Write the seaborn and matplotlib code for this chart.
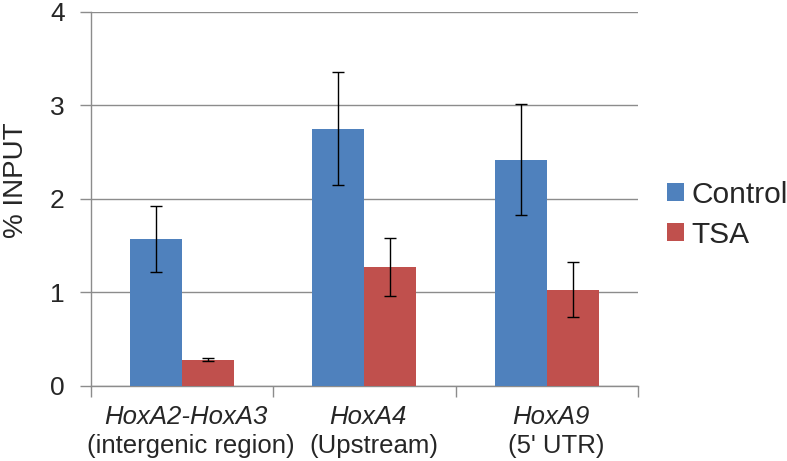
import numpy as np
import pandas as pd
import matplotlib
matplotlib.use("Agg")
import matplotlib.pyplot as plt
import seaborn as sns

# data
regions = ["HoxA2-HoxA3", "HoxA4", "HoxA9"]
region_notes = ["(intergenic region)", "(Upstream)", "(5' UTR)"]
conditions = ["Control", "TSA"]
control_vals = [1.57, 2.75, 2.42]
control_err = [0.355, 0.60, 0.59]
tsa_vals = [0.28, 1.27, 1.03]
tsa_err = [0.015, 0.31, 0.29]
y_ticks = [0, 1, 2, 3, 4]

colors = {"Control": "#4F81BD", "TSA": "#C0504D"}
grid_gray = "#8C8C8C"

df = pd.DataFrame({
    "region": regions * 2,
    "condition": ["Control"] * 3 + ["TSA"] * 3,
    "value": control_vals + tsa_vals,
    "err": control_err + tsa_err,
})

sns.set_style("white")
plt.rcParams["font.family"] = ["Liberation Sans", "DejaVu Sans"]

fig = plt.figure(figsize=(7.87, 4.61), dpi=100)
ax = fig.add_axes([0.1156, 0.1627, 0.695, 0.812])

sns.barplot(data=df, x="region", y="value", hue="condition", order=regions,
            hue_order=conditions, palette=colors, width=0.57, gap=0,
            errorbar=None, saturation=1, linewidth=0, ax=ax, zorder=3)

# custom error bars on top of each bar
for cond, cont in zip(conditions, ax.containers):
    sub = df[df["condition"] == cond].set_index("region").loc[regions]
    xs = [p.get_x() + p.get_width() / 2 for p in cont.patches]
    ax.errorbar(xs, sub["value"], yerr=sub["err"], fmt="none", ecolor="black",
                elinewidth=1, capsize=4, capthick=1, zorder=4)

ax.set_xlim(-0.5, 2.5)
ax.set_ylim(0, 4)
ax.set_yticks(y_ticks)
ax.tick_params(axis="y", labelsize=19, length=8, width=1, color=grid_gray,
               direction="out", pad=11, left=True)
ax.yaxis.grid(True, color=grid_gray, linewidth=1)
ax.set_axisbelow(True)

# x ticks at category boundaries, labels drawn as text
ax.set_xticks(np.arange(-0.5, 3, 1))
ax.set_xticklabels([])
ax.tick_params(axis="x", length=8, width=1, color=grid_gray, direction="out", bottom=True)
ax.set_xlabel("")

for s in ["top", "right"]:
    ax.spines[s].set_visible(False)
for s in ["left", "bottom"]:
    ax.spines[s].set_color(grid_gray)
    ax.spines[s].set_linewidth(1)

trans = ax.get_xaxis_transform()
for i, (name, note) in enumerate(zip(regions, region_notes)):
    ax.text(i + 0.02, -0.052, name, transform=trans, ha="center", va="top",
            fontsize=18.5, style="italic")
    ax.text(i + 0.05, -0.128, note, transform=trans, ha="center", va="top",
            fontsize=18.5)

ax.set_ylabel("% INPUT", fontsize=20)
ax.yaxis.set_label_coords(-0.113, 0.55)

handles, labels = ax.get_legend_handles_labels()
ax.legend(handles, labels, loc="center left", bbox_to_anchor=(0.848, 0.534),
          bbox_transform=fig.transFigure, frameon=False, fontsize=21.5,
          handlelength=0.55, handleheight=0.55, handletextpad=0.25,
          labelspacing=0.4, borderpad=0, borderaxespad=0)

fig.savefig("out.png", dpi=100)
